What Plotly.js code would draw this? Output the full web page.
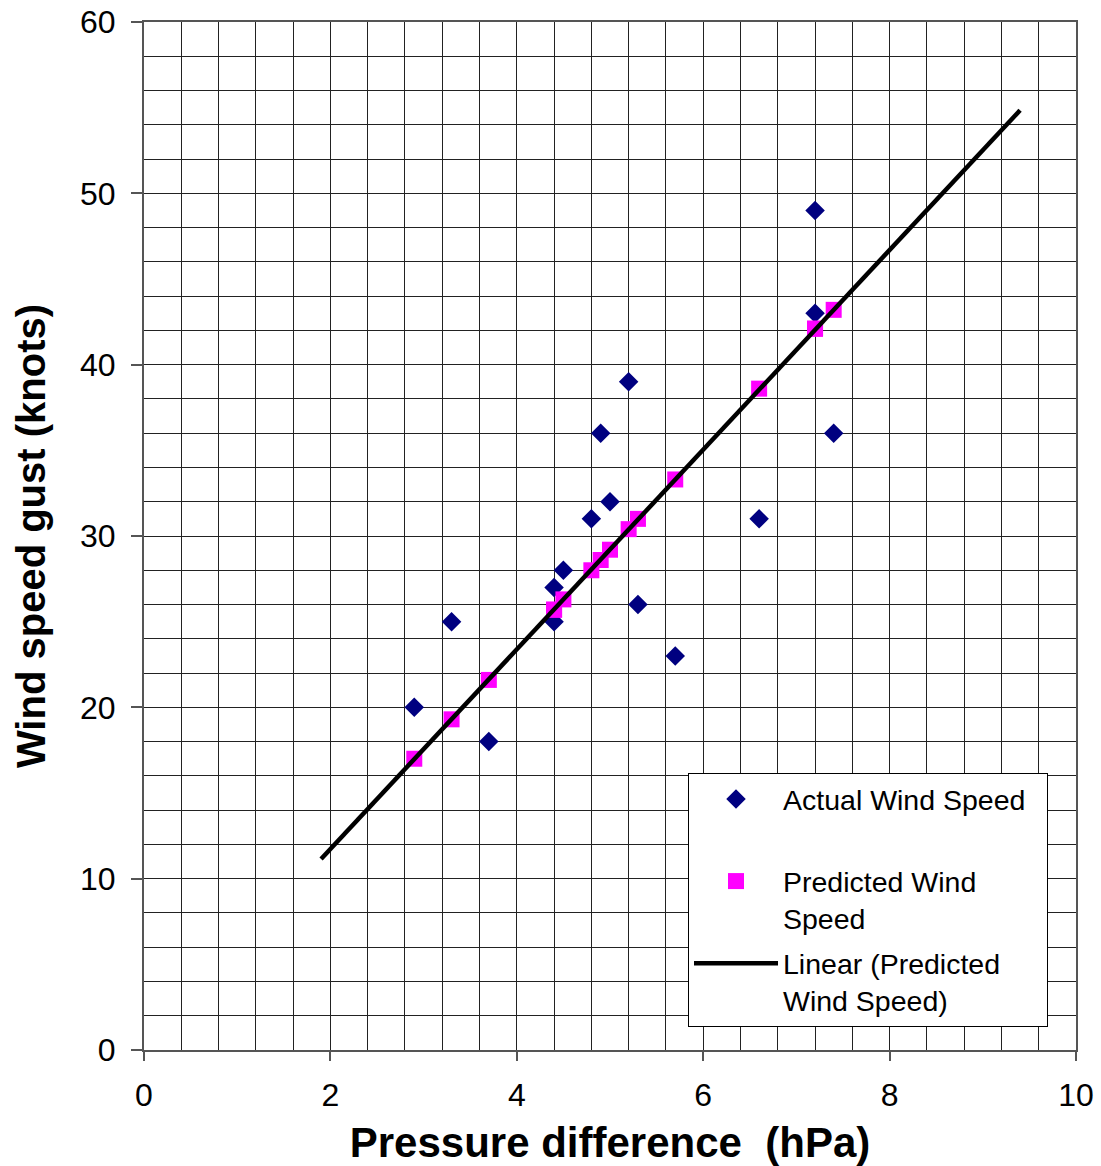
<!DOCTYPE html>
<html>
<head>
<meta charset="utf-8">
<script src="https://cdn.plot.ly/plotly-3.0.1.min.js"></script>
<style>html,body{margin:0;padding:0;background:#fff;}#chart{width:1101px;height:1166px;}</style>
</head>
<body>
<div id="chart"></div>
<script>
// Data
const actualX = [2.9, 3.3, 3.7, 4.4, 4.4, 4.5, 4.8, 4.9, 5.0, 5.2, 5.3, 5.7, 6.6, 7.2, 7.2, 7.4];
const actualY = [20, 25, 18, 27, 25, 28, 31, 36, 32, 39, 26, 23, 31, 49, 43, 36];
const predX = [2.9, 3.3, 3.7, 4.4, 4.4, 4.5, 4.8, 4.9, 5.0, 5.2, 5.3, 5.7, 6.6, 7.2, 7.2, 7.4];
const predY = [17.0, 19.3, 21.6, 25.7, 25.7, 26.3, 28.0, 28.6, 29.2, 30.4, 31.0, 33.3, 38.6, 42.1, 42.1, 43.2];
const trendX = [1.9, 9.4];
const trendY = [11.15, 54.85];
const xTicks = [0, 2, 4, 6, 8, 10];
const yTicks = [0, 10, 20, 30, 40, 50, 60];

const FONT = 'Arial, "Liberation Sans", sans-serif';

const traces = [
  {
    x: actualX, y: actualY, type: 'scatter', mode: 'markers',
    name: 'Actual Wind Speed&nbsp;&nbsp;<br>&nbsp;',
    marker: {symbol: 'diamond', size: 15, color: '#000080'},
    legendgroup: 'a'
  },
  {
    x: predX, y: predY, type: 'scatter', mode: 'markers',
    name: 'Predicted Wind<br>Speed',
    marker: {symbol: 'square', size: 16, color: '#FF00FF'},
    legendgroup: 'b'
  },
  {
    x: trendX, y: trendY, type: 'scatter', mode: 'lines',
    name: 'Linear (Predicted<br>Wind Speed)',
    line: {color: '#000000', width: 4.5},
    legendgroup: 'c'
  }
];

const layout = {
  width: 1101, height: 1166,
  margin: {l: 144, r: 25, t: 22, b: 116},
  paper_bgcolor: '#ffffff', plot_bgcolor: '#ffffff',
  font: {family: FONT, color: '#000000', size: 30},
  showlegend: true,
  legend: {
    x: 0.5837, y: 0.2695, xanchor: 'left', yanchor: 'top',
    bgcolor: '#ffffff', bordercolor: '#000000', borderwidth: 1,
    font: {family: FONT, size: 28.5, color: '#000000'},
    valign: 'top', itemwidth: 84, tracegroupgap: 5
  },
  xaxis: {
    range: [0, 10], tickvals: xTicks, ticktext: xTicks.map(String),
    showgrid: true, gridcolor: '#222222', gridwidth: 1,
    minor: {dtick: 0.4, tick0: 0, showgrid: true, gridcolor: '#222222', gridwidth: 1},
    zeroline: false,
    showline: true, linecolor: '#555555', linewidth: 2, mirror: true,
    ticks: 'outside', ticklen: 9, tickcolor: '#555555', tickwidth: 2,
    ticklabelstandoff: 7,
    tickfont: {family: FONT, size: 32, color: '#000'},
    title: {text: 'Pressure difference  (hPa)', font: {family: FONT, size: 42, color: '#000', weight: 'bold'}, standoff: 17}
  },
  yaxis: {
    range: [0, 60], tickvals: yTicks, ticktext: yTicks.map(String),
    showgrid: true, gridcolor: '#222222', gridwidth: 1,
    minor: {dtick: 2, tick0: 0, showgrid: true, gridcolor: '#222222', gridwidth: 1},
    zeroline: false,
    showline: true, linecolor: '#555555', linewidth: 2, mirror: true,
    ticks: 'outside', ticklen: 11, tickcolor: '#555555', tickwidth: 2,
    ticklabelstandoff: 9,
    tickfont: {family: FONT, size: 32, color: '#000'},
    title: {text: 'Wind speed gust (knots)', font: {family: FONT, size: 40, color: '#000', weight: 'bold'}, standoff: 22}
  }
};

Plotly.newPlot('chart', traces, layout, {displayModeBar: false, staticPlot: true});
</script>
</body>
</html>
